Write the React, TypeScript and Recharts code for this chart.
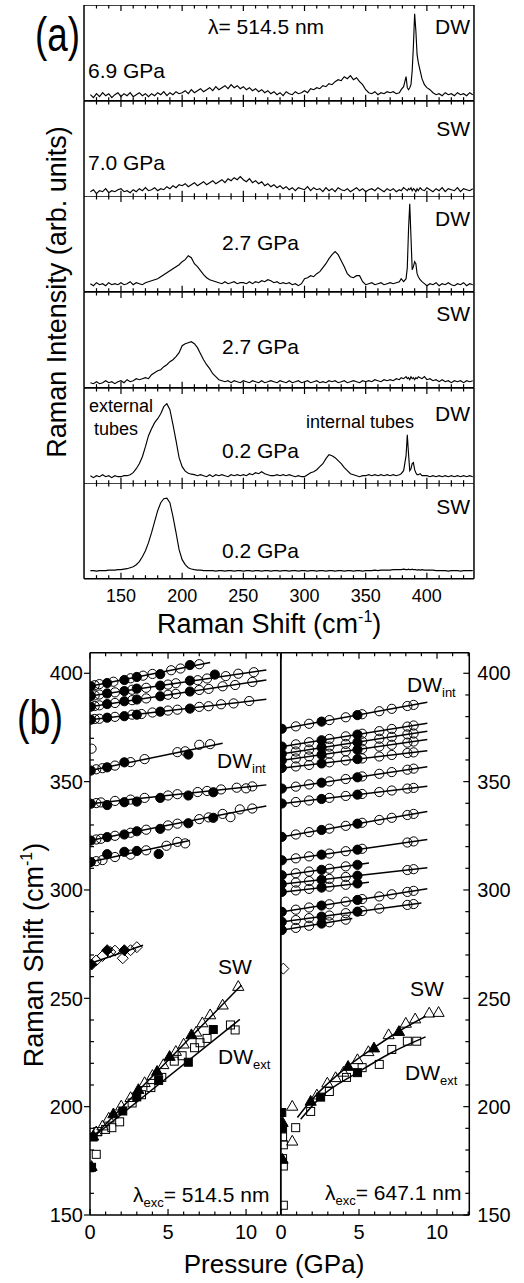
import React from 'react';
import { LineChart, Line, XAxis, YAxis, ComposedChart, Scatter } from 'recharts';

const FONT = '"Liberation Sans", Arial, Helvetica, sans-serif';
const INK = '#000';
const AX = { stroke: INK, strokeWidth: 1.5 };
const THIN = 0.01;

// ---------------- Panel (a): Raman spectra ----------------
const RAMAN_X = [
  125, 127.5, 130, 132.5, 135, 137.5, 140, 142.5, 145, 147.5,
  150, 152.5, 155, 157.5, 160, 162.5, 165, 167.5, 170, 172.5,
  175, 177.5, 180, 182.5, 185, 187.5, 190, 192.5, 195, 197.5,
  200, 202.5, 205, 207.5, 210, 212.5, 215, 217.5, 220, 222.5,
  225, 227.5, 230, 232.5, 235, 237.5, 240, 242.5, 245, 247.5,
  250, 252.5, 255, 257.5, 260, 262.5, 265, 267.5, 270, 272.5,
  275, 277.5, 280, 282.5, 285, 287.5, 290, 292.5, 295, 297.5,
  300, 302.5, 305, 307.5, 310, 312.5, 315, 317.5, 320, 322.5,
  325, 327.5, 330, 332.5, 335, 337.5, 340, 342.5, 345, 347.5,
  350, 352.5, 355, 357.5, 360, 362.5, 365, 367.5, 370,
  372.5, 375, 377.5, 379, 381, 383, 384, 385, 386, 387, 388, 389, 390, 391, 392, 393, 394.5, 396, 398,
  400, 402.5, 405, 407.5, 410, 412.5, 415, 417.5, 420, 422.5, 425, 427.5, 430, 432.5, 435, 437.5,
];

const SPEC_DW_69 = [
  6, 3, 7, 4, 8, 5, 7, 3, 6, 8,
  4, 7, 5, 8, 4, 6, 8, 5, 7, 4,
  7, 5, 8, 6, 9, 5, 8, 6, 9, 7,
  8, 10, 7, 11, 8, 10, 12, 9, 11, 13,
  10, 14, 11, 13, 15, 12, 16, 13, 15, 12,
  14, 11, 13, 10, 12, 9, 11, 8, 10, 7,
  9, 6, 8, 5, 9, 7, 6, 9, 7, 8,
  10, 8, 12, 11, 13, 12, 15, 14, 17, 16,
  19, 21, 20, 24, 22, 25, 21, 23, 19, 16,
  11, 8, 7, 9, 6, 8, 7, 9, 8,
  9, 7, 8, 11, 14, 24, 13, 11, 13, 16, 30, 55, 87, 70, 46, 38, 30, 22, 16,
  13, 11, 8, 6, 7, 5, 8, 6, 7, 5, 8, 6, 7, 5, 8, 6,
];
const SPEC_SW_70 = [
  5, 7, 3, 6, 5, 8, 4, 6, 5, 7,
  8, 5, 6, 4, 7, 5, 8, 6, 9, 6,
  7, 9, 6, 8, 7, 10, 8, 11, 9, 12,
  11, 13, 10, 12, 14, 11, 13, 15, 12, 14,
  16, 13, 15, 17, 14, 18, 16, 19, 17, 20,
  17, 15, 18, 14, 16, 13, 15, 11, 13, 10,
  12, 9, 11, 8, 10, 7, 9, 6, 9, 8,
  7, 10, 6, 9, 7, 8, 5, 9, 6, 8,
  5, 9, 7, 6, 8, 5, 7, 9, 6, 8,
  5, 7, 8, 6, 9, 7, 5, 8, 6,
  8, 5, 7, 6, 9, 7, 6, 8, 7, 9, 6, 8, 7, 5, 8, 6, 9, 7, 6,
  9, 7, 5, 8, 6, 9, 5, 8, 7, 6, 9, 5, 8, 7, 6, 8,
];
const SPEC_DW_27 = [
  8, 6, 9, 7, 8, 6, 9, 7, 8, 7,
  9, 7, 8, 10, 7, 9, 8, 7, 9, 10,
  11, 12, 13, 15, 17, 19, 21, 23, 25, 27,
  30, 32, 36, 34, 28, 25, 21, 17, 14, 12,
  11, 10, 9, 8, 10, 8, 9, 10, 8, 9,
  9, 8, 10, 8, 10, 9, 11, 10, 12, 11,
  9, 10, 8, 9, 8, 9, 7, 8, 6, 8,
  13, 14, 16, 15, 18, 20, 24, 28, 33, 37,
  40, 37, 31, 25, 18, 15, 14, 16, 16, 10,
  7, 8, 9, 7, 8, 9, 7, 8, 9,
  8, 9, 10, 13, 10, 13, 24, 62, 88, 55, 22, 25, 30, 28, 18, 15, 12, 10, 8,
  6, 8, 7, 9, 6, 8, 7, 9, 7, 6, 8, 7, 9, 6, 8, 7,
];
const SPEC_SW_27 = [
  5, 4, 6, 4, 5, 7, 5, 6, 4, 6,
  7, 5, 8, 6, 7, 9, 8, 9, 10, 9,
  13, 15, 17, 18, 21, 23, 26, 28, 31, 35,
  42, 44, 45, 46, 44, 40, 34, 28, 23, 19,
  14, 11, 8, 7, 6, 7, 5, 7, 6, 5,
  7, 6, 5, 7, 6, 5, 7, 5, 6, 7,
  6, 5, 7, 6, 5, 7, 5, 6, 7, 5,
  6, 7, 5, 6, 7, 5, 6, 5, 7, 6,
  7, 5, 6, 7, 5, 6, 7, 6, 5, 7,
  6, 7, 6, 8, 7, 6, 8, 7, 8,
  7, 9, 8, 10, 9, 11, 9, 10, 8, 11, 9, 10, 8, 10, 9, 11, 10, 9, 11,
  8, 9, 7, 8, 6, 8, 6, 7, 5, 7, 6, 7, 5, 7, 6, 7,
];
const SPEC_DW_02 = [
  8, 6, 8, 7, 9, 7, 8, 6, 8, 7,
  7, 8, 8, 9, 11, 15, 20, 27, 37, 48,
  55, 61, 65, 70, 77, 80, 74, 59, 43, 26,
  17, 12.5, 10.5, 9.5, 9, 8, 9, 8, 7, 9,
  7, 9, 8, 9, 8, 7, 9, 8, 9, 8,
  9, 8, 10, 9, 11, 10, 12, 10, 9, 8,
  8, 9, 8, 9, 8, 9, 8, 7, 8, 7,
  7, 9, 11, 12, 14, 17, 20, 25, 29, 28,
  26, 23, 20, 16, 13, 10, 9, 8, 7, 8,
  8, 9, 8, 9, 8, 9, 8, 9, 8,
  9, 8, 9, 10, 13, 28, 49, 30, 13, 15, 20, 21, 14, 11, 9, 9, 10, 8, 8,
  8, 7, 8, 7, 8, 7, 8, 7, 8, 7, 8, 7, 8, 7, 8, 7,
];
const SPEC_SW_02 = [
  8, 8, 7.5, 8, 8, 8, 8.5, 8.5, 8.5, 9,
  9, 9.5, 10, 11, 12, 14, 17, 22, 28, 36,
  46, 57, 68, 76, 80, 80.5, 76, 62, 46, 29,
  19, 14, 11, 9.7, 9, 8.5, 8.5, 8, 8, 8,
  8, 7.5, 8, 8, 7.5, 8, 8, 7.5, 8, 8,
  7.5, 8, 8, 7.5, 8, 8, 7.5, 8, 8, 7.5,
  8, 8, 7.5, 8, 8, 7.5, 8, 8, 7.5, 8,
  8, 7.5, 8, 8, 7.5, 8, 8, 7.5, 8, 8,
  7.5, 8, 8, 7.5, 8, 8, 7.5, 8, 8, 7.5,
  8, 8, 8, 8.5, 8, 8.5, 8.5, 8.5, 8.5,
  9, 9, 9, 9, 9.5, 9, 9, 9.5, 9, 9, 9.5, 9, 9, 9, 8.5, 9, 8.5, 9, 8.5,
  8.5, 8.5, 8.5, 8, 8, 8, 8, 7.5, 8, 8, 8, 7.5, 8, 8, 8, 8,
];
const SPECTRA = [SPEC_DW_69, SPEC_SW_70, SPEC_DW_27, SPEC_SW_27, SPEC_DW_02, SPEC_SW_02];
const RAMAN_TICKS = [130, 140, 150, 160, 170, 180, 190, 200, 210, 220, 230, 240, 250, 260, 270, 280, 290, 300, 310, 320, 330, 340, 350, 360, 370, 380, 390, 400, 410, 420, 430];
const RAMAN_DOMAIN: [number, number] = [119.8, 438.5];

// ---------------- Panel (b): pressure dependence ----------------
const P_TICKS = [0, 1, 2, 3, 4, 5, 6, 7, 8, 9, 10, 11, 12];
const SHIFT_TICKS = [150, 160, 170, 180, 190, 200, 210, 220, 230, 240, 250, 260, 270, 280, 290, 300, 310, 320, 330, 340, 350, 360, 370, 380, 390, 400];
const SHIFT_DOMAIN: [number, number] = [150, 409.5];

// lambda = 514.5 nm
const FITS_514: number[][] = [
  [0, 394.0, 7.7, 405.0],
  [0, 389.5, 11.3, 401.5],
  [0, 384.6, 11.3, 396.9],
  [0, 378.6, 11.3, 388.0],
  [0, 355.1, 8.5, 367.7],
  [0, 339.8, 11.3, 348.5],
  [0, 322.8, 11.3, 338.8],
  [0, 312.9, 6.4, 322.8],
  [0, 266.1, 3.4, 274.5],
  [0.2, 186.0, 9.7, 256.0],
  [0.2, 186.0, 9.6, 240.3],
];
const OPEN_CIRC_514 = [
  [0.3, 394.5], [0.6, 395.0], [1.5, 396.1], [2.6, 397.7], [3.4, 398.9], [4.0, 399.7], [5.2, 401.4], [5.8, 402.2], [7.0, 404.2],
  [0.3, 389.8], [0.6, 390.2], [1.6, 391.2], [2.7, 392.4], [3.6, 393.3], [5.0, 394.8], [5.5, 395.4], [6.9, 396.8], [7.5, 397.6], [8.7, 398.7], [9.5, 399.8], [10.5, 400.5],
  [0.3, 384.9], [0.6, 385.2], [1.6, 386.3], [2.7, 387.6], [3.6, 388.4], [5.0, 390.1], [5.5, 390.5], [7.0, 392.3], [7.6, 392.8], [8.5, 394.0], [9.3, 394.6], [10.4, 396.0],
  [0.3, 378.9], [0.6, 379.0], [1.6, 379.9], [2.7, 380.9], [3.3, 381.2], [4.0, 381.9], [5.0, 382.8], [5.6, 383.2], [7.0, 384.5], [7.6, 384.8], [8.4, 385.7], [9.2, 386.1], [10.2, 387.2],
  [0.1, 365.2], [0.4, 355.7], [0.8, 356.2], [1.6, 357.4], [2.6, 359.0], [3.5, 360.4], [5.6, 363.6], [6.1, 364.0], [7.0, 367.0], [7.7, 367.3],
  [0.4, 340.1], [0.7, 340.4], [1.6, 341.1], [2.6, 341.7], [3.5, 342.5], [5.0, 343.6], [5.6, 344.2], [6.9, 345.2], [7.5, 345.7], [8.4, 346.4], [9.4, 347.2], [10.0, 346.9], [10.4, 347.8],
  [0.4, 323.3], [0.7, 323.6], [1.6, 325.0], [2.6, 326.4], [3.6, 327.8], [5.0, 329.8], [5.6, 330.6], [7.0, 332.7], [7.6, 333.5], [8.5, 335.1], [9.0, 333.6], [9.6, 337.2], [10.4, 337.6],
  [0.4, 313.3], [0.8, 313.8], [1.6, 315.2], [2.6, 316.3], [3.6, 318.3], [4.9, 320.4], [5.6, 322.2], [6.1, 321.5],
];
const FILL_CIRC_514 = [
  [0.05, 394.0], [1.1, 395.5], [2.2, 396.9], [3.0, 398.3], [4.5, 399.6], [6.4, 403.8],
  [0.05, 389.5], [1.1, 390.7], [2.2, 391.8], [3.0, 392.9], [4.5, 394.3], [6.4, 396.6], [8.0, 399.4],
  [0.05, 384.6], [1.1, 385.8], [2.2, 387.1], [3.0, 387.9], [4.5, 389.4], [6.4, 391.6],
  [0.05, 378.6], [1.1, 379.5], [2.2, 380.2], [3.0, 380.9], [4.5, 382.3], [6.4, 383.7],
  [0.05, 355.1], [1.1, 356.6], [2.2, 358.9], [6.3, 362.5],
  [0.05, 339.8], [1.1, 339.2], [2.2, 340.5], [3.0, 340.8], [4.5, 342.5], [6.3, 343.6], [7.9, 345.1],
  [0.05, 322.8], [1.1, 324.4], [2.2, 325.6], [3.0, 327.1], [4.5, 328.2], [6.3, 330.8], [7.9, 333.3],
  [0.05, 312.9], [1.1, 316.5], [2.2, 317.6], [3.0, 318.0], [4.4, 316.6],
];
const OPEN_DIAM_514 = [[0.4, 267.5], [0.8, 269.5], [1.3, 271.4], [1.6, 272.0], [2.1, 268.5], [2.6, 272.2], [3.0, 273.6]];
const FILL_DIAM_514 = [[0.1, 265.6], [1.1, 272.2], [2.2, 272.2]];
const OPEN_TRI_514 = [
  [0.4, 188.5], [0.8, 191.2], [1.2, 194.8], [2.0, 200.4], [2.6, 204.3], [3.5, 211.2], [4.0, 214.5], [4.7, 219.5],
  [5.5, 225.6], [6.0, 229.0], [6.8, 234.5], [7.2, 238.8], [7.7, 242.5], [8.5, 247.0], [9.5, 255.6],
];
const FILL_TRI_514 = [[0.1, 172.5], [0.2, 186.5], [1.5, 196.8], [3.1, 208.0], [4.3, 216.4], [5.1, 223.3], [6.5, 233.3]];
const OPEN_SQ_514 = [
  [0.4, 178.0], [0.5, 188.5], [1.0, 189.5], [1.4, 190.3], [1.9, 193.0], [2.7, 201.7], [3.3, 205.5], [3.9, 208.8],
  [4.6, 213.5], [5.4, 221.0], [5.9, 223.5], [6.7, 227.2], [7.05, 229.5], [7.5, 231.5], [9.0, 237.7], [9.3, 235.4],
];
const FILL_SQ_514 = [[0.1, 172.0], [0.2, 186.0], [2.1, 198.0], [3.0, 204.5], [4.4, 212.1], [6.3, 220.5], [7.9, 235.6]];

// lambda = 647.1 nm
const FITS_647: number[][] = [
  [0, 374.3, 9.38, 386.6],
  [0, 366.1, 9.38, 376.9],
  [0, 362.8, 9.38, 373.2],
  [0, 359.7, 9.38, 369.4],
  [0, 356.2, 9.38, 364.3],
  [0, 346.7, 9.38, 356.9],
  [0, 339.8, 9.38, 347.9],
  [0, 324.4, 9.38, 336.2],
  [0, 313.6, 9.38, 323.3],
  [0, 306.7, 5.64, 312.4],
  [0, 302.6, 9.38, 310.3],
  [0, 299.0, 5.64, 303.6],
  [0, 289.8, 9.38, 300.6],
  [0, 285.2, 9.0, 294.0],
  [0, 281.4, 4.57, 286.8],
];
const SW_CURVE_647 = [[1.05, 195.0], [1.9, 202.6], [4.3, 218.7], [5.96, 227.2], [7.56, 234.8], [9.27, 241.7]];
const DWEXT_CURVE_647 = [[1.26, 194.2], [2.54, 204.4], [4.9, 215.7], [7.1, 225.0], [9.27, 232.2]];
const OPEN_CIRC_647 = [
  [0.95, 375.5], [1.8, 376.7], [3.1, 378.4], [4.15, 379.7], [5.2, 381.1], [6.3, 382.5], [7.1, 383.6], [8.1, 384.9], [8.5, 385.4],
  [0.95, 367.2], [1.8, 368.2], [3.1, 369.7], [4.15, 370.9], [5.2, 372.1], [6.3, 373.3], [7.1, 374.3], [8.1, 375.4], [8.5, 375.9],
  [0.95, 363.9], [1.8, 364.8], [3.1, 366.2], [4.15, 367.4], [5.2, 368.6], [6.3, 369.8], [7.1, 370.7], [8.1, 371.8], [8.5, 372.2],
  [0.95, 360.7], [1.8, 361.6], [3.1, 362.9], [4.15, 364.0], [5.2, 365.1], [6.3, 366.2], [7.1, 367.0], [8.1, 368.0], [8.5, 368.5],
  [0.95, 357.0], [1.8, 357.7], [3.1, 358.9], [4.15, 359.8], [5.2, 360.7], [6.3, 361.6], [7.1, 362.3], [8.1, 363.2], [8.5, 363.5],
  [0.95, 347.7], [1.8, 348.7], [3.1, 350.1], [4.15, 351.2], [5.2, 352.4], [6.3, 353.6], [7.1, 354.4], [8.1, 355.5], [8.5, 356.0],
  [0.95, 340.6], [1.8, 341.3], [3.1, 342.5], [4.15, 343.4], [5.2, 344.3], [6.3, 345.2], [7.1, 345.9], [8.1, 346.8], [8.5, 347.1],
  [0.95, 325.6], [1.8, 326.7], [3.1, 328.3], [4.15, 329.6], [5.2, 331.0], [6.3, 332.3], [7.1, 333.3], [8.1, 334.6], [8.5, 335.1],
  [0.95, 314.6], [1.8, 315.5], [3.1, 316.8], [4.15, 317.9], [5.2, 319.0], [8.1, 321.9], [8.5, 322.4],
  [0.95, 307.7], [1.8, 308.5], [3.1, 309.8], [4.15, 310.9],
  [0.95, 303.4], [1.8, 304.1], [3.1, 305.1], [4.15, 306.0], [8.1, 309.2], [8.5, 309.6],
  [0.95, 299.8], [1.8, 300.5], [3.1, 301.5], [4.15, 302.4],
  [0.95, 290.9], [1.8, 291.9], [3.1, 293.4], [4.15, 294.6], [5.2, 295.8], [6.3, 297.0], [7.1, 298.0], [8.1, 299.1], [8.5, 299.6],
  [0.95, 286.1], [1.8, 287.0], [3.1, 288.2], [4.15, 289.3], [5.2, 290.3], [6.3, 291.4], [8.1, 293.1], [8.5, 293.5],
  [0.95, 282.5], [1.8, 283.5], [3.1, 285.1], [4.15, 286.3],
];
const FILL_CIRC_647 = [
  [0.05, 374.4], [2.6, 377.7], [4.9, 380.7],
  [0.05, 366.2], [2.6, 369.1], [4.9, 371.7],
  [0.05, 362.9], [2.6, 365.7], [4.9, 368.2],
  [0.05, 359.8], [2.6, 362.4], [4.9, 364.7],
  [0.05, 356.3], [2.6, 358.4], [4.9, 360.4],
  [0.05, 346.8], [2.6, 349.5], [4.9, 352.0],
  [0.05, 339.9], [2.6, 342.0], [4.9, 344.0],
  [0.05, 324.5], [2.6, 327.7], [4.9, 330.6],
  [0.05, 313.7], [2.6, 316.3], [4.9, 318.6],
  [0.05, 306.8], [2.6, 309.3], [4.9, 311.6],
  [0.05, 302.7], [2.6, 304.7], [4.9, 306.6],
  [0.05, 299.1], [2.6, 301.1], [4.9, 303.0],
  [0.05, 289.9], [2.6, 292.8], [4.9, 295.4],
  [0.05, 285.3], [2.6, 287.7], [4.9, 290.0],
  [0.05, 281.5], [2.6, 284.5],
];
const OPEN_DIAM_647 = [[0.15, 263.7]];
const OPEN_TRI_647 = [
  [0.72, 200.3], [0.72, 184.2], [2.3, 205.5], [2.97, 211.0], [3.5, 213.5], [4.0, 216.0], [4.9, 221.8], [5.6, 225.5],
  [6.9, 233.3], [8.0, 238.6], [8.6, 240.6], [9.5, 243.3], [10.1, 243.6],
];
const FILL_TRI_647 = [[0.1, 192.8], [0.1, 175.8], [1.9, 202.6], [4.3, 218.7], [5.96, 227.2], [7.56, 234.8]];
const OPEN_SQ_647 = [
  [0.1, 186.0], [0.15, 182.4], [0.1, 176.0], [0.15, 172.6], [0.15, 154.5], [0.94, 190.3], [1.9, 197.8], [3.1, 207.0],
  [4.2, 213.5], [5.2, 218.0], [6.3, 219.5], [7.1, 226.4], [8.1, 230.2], [8.7, 230.2],
];
const FILL_SQ_647 = [[0.05, 197.3], [0.1, 190.0], [2.54, 204.4], [4.9, 215.7]];

// ---------------- helpers ----------------
type Side = 'top' | 'bottom' | 'left' | 'right';
function makeTick(o: { side: Side; majorEvery: number; majorLen: number; minorLen: number; majorOut?: boolean; label?: boolean; fontSize?: number; gap?: number }) {
  return function Tick(props: any) {
    const x = Number(props.x);
    const y = Number(props.y);
    const v = Number(props.payload?.value);
    const r = v / o.majorEvery;
    const isMajor = Math.abs(r - Math.round(r)) < 1e-6;
    const len = isMajor ? o.majorLen : o.minorLen;
    const fs = o.fontSize ?? 18;
    const gap = o.gap ?? 0;
    const st = { stroke: INK, strokeWidth: 1.2 };
    const tp = { fontSize: fs, fontFamily: FONT, fill: INK };
    let t: React.ReactNode = null;
    let l: React.ReactNode = null;
    if (o.side === 'bottom') {
      t = <line x1={x} x2={x} y1={y} y2={y - len} {...st} />;
      if (o.label && isMajor) l = <text x={x} y={y + gap} textAnchor="middle" {...tp}>{v}</text>;
    } else if (o.side === 'top') {
      t = <line x1={x} x2={x} y1={y} y2={y + len} {...st} />;
    } else if (o.side === 'left') {
      t = isMajor && o.majorOut
        ? <line x1={x - len} x2={x} y1={y} y2={y} {...st} />
        : <line x1={x} x2={x + len} y1={y} y2={y} {...st} />;
      if (o.label && isMajor) l = <text x={x - gap} y={y + fs * 0.36} textAnchor="end" {...tp}>{v}</text>;
    } else {
      t = <line x1={x - len} x2={x} y1={y} y2={y} {...st} />;
      if (o.label && isMajor) l = <text x={x + gap} y={y + fs * 0.36} textAnchor="start" {...tp}>{v}</text>;
    }
    return <g>{t}{l}</g>;
  };
}

const OpenCircle = (p: any) => <circle cx={p.cx} cy={p.cy} r={4.6} fill="none" stroke={INK} strokeWidth={1} />;
const FillCircle = (p: any) => <circle cx={p.cx} cy={p.cy} r={4.6} fill={INK} stroke={INK} strokeWidth={1} />;
const triPts = (cx: number, cy: number) => `${cx},${cy - 5.6} ${cx - 5.6},${cy + 4.2} ${cx + 5.6},${cy + 4.2}`;
const OpenTri = (p: any) => <polygon points={triPts(p.cx, p.cy)} fill="none" stroke={INK} strokeWidth={1} />;
const FillTri = (p: any) => <polygon points={triPts(p.cx, p.cy)} fill={INK} stroke={INK} strokeWidth={1} />;
const OpenSq = (p: any) => <rect x={p.cx - 4} y={p.cy - 4} width={8} height={8} fill="none" stroke={INK} strokeWidth={1} />;
const FillSq = (p: any) => <rect x={p.cx - 4} y={p.cy - 4} width={8} height={8} fill={INK} stroke={INK} strokeWidth={1} />;
const diaPts = (cx: number, cy: number) => `${cx},${cy - 5.5} ${cx + 5.5},${cy} ${cx},${cy + 5.5} ${cx - 5.5},${cy}`;
const OpenDia = (p: any) => <polygon points={diaPts(p.cx, p.cy)} fill="none" stroke={INK} strokeWidth={1} />;
const FillDia = (p: any) => <polygon points={diaPts(p.cx, p.cy)} fill={INK} stroke={INK} strokeWidth={1} />;

const toPts = (arr: number[][]) => arr.map(([p, v]) => ({ p, v }));

// ---------------- layout ----------------
const A_TOP = 5;
const A_PANEL_H = 95.67;

function SpectrumPanel({ values, index }: { values: number[]; index: number }) {
  const last = index === SPECTRA.length - 1;
  const extra = last ? 32 : THIN;
  const h = A_PANEL_H + extra + THIN;
  const data = RAMAN_X.map((x, i) => ({ x, y: values[i] }));
  return (
    <div style={{ position: 'absolute', left: 0, top: A_TOP + index * A_PANEL_H, width: 524, height: h }}>
      <LineChart width={524} height={h} data={data} margin={{ top: 0, right: 50, bottom: 0, left: 84 }}>
        <XAxis xAxisId="b" dataKey="x" type="number" domain={RAMAN_DOMAIN} allowDataOverflow ticks={RAMAN_TICKS} interval={0}
          height={extra} tickSize={0} tickMargin={0} tickLine={false} axisLine={AX}
          tick={makeTick({ side: 'bottom', majorEvery: 50, majorLen: 6, minorLen: 3.5, label: last, fontSize: 18, gap: 23.5 })} />
        <XAxis xAxisId="t" orientation="top" dataKey="x" type="number" domain={RAMAN_DOMAIN} allowDataOverflow ticks={RAMAN_TICKS} interval={0}
          height={THIN} tickSize={0} tickMargin={0} tickLine={false} axisLine={AX}
          tick={makeTick({ side: 'top', majorEvery: 50, majorLen: 6, minorLen: 3.5 })} />
        <YAxis yAxisId="l" type="number" domain={[0, A_PANEL_H]} allowDataOverflow width={THIN} tick={false} tickLine={false} axisLine={AX} />
        <YAxis yAxisId="r" orientation="right" type="number" domain={[0, A_PANEL_H]} allowDataOverflow width={THIN} tick={false} tickLine={false} axisLine={AX} />
        <Line xAxisId="b" yAxisId="l" dataKey="y" type="linear" stroke={INK} strokeWidth={1.15} dot={false} isAnimationActive={false} />
      </LineChart>
    </div>
  );
}

function PressurePanel(props: {
  left: number; width: number; marginLeft: number; marginRight: number; leftAxisW: number; rightAxisW: number; xMax: number;
  leftLabels: boolean; rightLabels: boolean; leftTicks: boolean;
  fits: number[][]; curves: number[][][];
  oc: number[][]; fc: number[][]; od: number[][]; fd: number[][]; ot: number[][]; ft: number[][]; os: number[][]; fs: number[][];
}) {
  const H = 610;
  const dom: [number, number] = [0, props.xMax];
  const lineProps = { xAxisId: 'b', yAxisId: 'l', dataKey: 'v', stroke: INK, strokeWidth: 1.5, dot: false, isAnimationActive: false, activeDot: false } as any;
  const sc = { xAxisId: 'b', yAxisId: 'l', isAnimationActive: false } as any;
  const ticks = P_TICKS.filter((t) => t <= props.xMax);
  return (
    <div style={{ position: 'absolute', left: props.left, top: 640, width: props.width, height: H }}>
      <ComposedChart width={props.width} height={H} margin={{ top: 12.7 - THIN, right: props.marginRight, bottom: 0, left: props.marginLeft }}>
        <XAxis xAxisId="b" dataKey="p" type="number" domain={dom} allowDataOverflow ticks={ticks} interval={0}
          height={35} tickSize={0} tickMargin={0} tickLine={false} axisLine={AX}
          tick={makeTick({ side: 'bottom', majorEvery: 5, majorLen: 6, minorLen: 3.5, label: true, fontSize: 20, gap: 24 })} />
        <XAxis xAxisId="t" orientation="top" dataKey="p" type="number" domain={dom} allowDataOverflow ticks={ticks} interval={0}
          height={THIN} tickSize={0} tickMargin={0} tickLine={false} axisLine={AX}
          tick={makeTick({ side: 'top', majorEvery: 5, majorLen: 6, minorLen: 3.5 })} />
        <YAxis yAxisId="l" dataKey="v" type="number" domain={SHIFT_DOMAIN} allowDataOverflow ticks={SHIFT_TICKS} interval={0}
          width={props.leftAxisW} tickSize={0} tickMargin={0} tickLine={false} axisLine={AX}
          tick={props.leftTicks ? makeTick({ side: 'left', majorEvery: 50, majorLen: 6, minorLen: 4, majorOut: true, label: props.leftLabels, fontSize: 20, gap: 7 }) : false} />
        <YAxis yAxisId="r" orientation="right" type="number" domain={SHIFT_DOMAIN} allowDataOverflow ticks={SHIFT_TICKS} interval={0}
          width={props.rightAxisW} tickSize={0} tickMargin={0} tickLine={false} axisLine={AX}
          tick={props.rightLabels ? makeTick({ side: 'right', majorEvery: 50, majorLen: 6, minorLen: 4, label: true, fontSize: 20, gap: 8 }) : false} />
        <Scatter {...sc} data={toPts(props.oc)} shape={OpenCircle} />
        <Scatter {...sc} data={toPts(props.od)} shape={OpenDia} />
        <Scatter {...sc} data={toPts(props.ot)} shape={OpenTri} />
        <Scatter {...sc} data={toPts(props.os)} shape={OpenSq} />
        <Scatter {...sc} data={toPts(props.fc)} shape={FillCircle} />
        <Scatter {...sc} data={toPts(props.fd)} shape={FillDia} />
        <Scatter {...sc} data={toPts(props.ft)} shape={FillTri} />
        <Scatter {...sc} data={toPts(props.fs)} shape={FillSq} />
        {props.fits.map((f, i) => (
          <Line key={'f' + i} {...lineProps} type="linear" data={[{ p: f[0], v: f[1] }, { p: f[2], v: f[3] }]} />
        ))}
        {props.curves.map((c, i) => (
          <Line key={'c' + i} {...lineProps} type="monotone" data={toPts(c)} />
        ))}
      </ComposedChart>
    </div>
  );
}

function Overlay() {
  const t = { fontFamily: FONT, fill: INK } as any;
  return (
    <svg width={524} height={1283} style={{ position: 'absolute', left: 0, top: 0, pointerEvents: 'none' }}>
      <g {...t}>
        <text x={35} y={51} fontSize={48} textLength={45} lengthAdjust="spacingAndGlyphs">(a)</text>
        <text x={17} y={734} fontSize={48} textLength={46} lengthAdjust="spacingAndGlyphs">(b)</text>

        <text x={266} y={33.5} fontSize={21} textAnchor="middle">λ= 514.5 nm</text>
        <text x={470} y={33.5} fontSize={21} textAnchor="end">DW</text>
        <text x={88} y={77.5} fontSize={21}>6.9 GPa</text>
        <text x={470} y={135.5} fontSize={21} textAnchor="end">SW</text>
        <text x={88} y={169.5} fontSize={21}>7.0 GPa</text>
        <text x={470} y={225.5} fontSize={21} textAnchor="end">DW</text>
        <text x={222} y={250} fontSize={21}>2.7 GPa</text>
        <text x={470} y={320.5} fontSize={21} textAnchor="end">SW</text>
        <text x={222} y={354} fontSize={21}>2.7 GPa</text>
        <text x={470} y={420.5} fontSize={21} textAnchor="end">DW</text>
        <text x={222} y={458} fontSize={21}>0.2 GPa</text>
        <text x={470} y={513.5} fontSize={21} textAnchor="end">SW</text>
        <text x={222} y={558} fontSize={21}>0.2 GPa</text>
        <text x={89} y={411.5} fontSize={18}>external</text>
        <text x={94} y={434.5} fontSize={18}>tubes</text>
        <text x={306} y={428} fontSize={18}>internal tubes</text>

        <text x={57} y={292} fontSize={27} textAnchor="middle" transform="rotate(-90 57 292)" dy={9}>Raman Intensity (arb. units)</text>
        <text x={157} y={633} fontSize={27}>Raman Shift (cm<tspan fontSize={16} dy={-11}>-1</tspan><tspan dy={11}>)</tspan></text>

        <text x={34} y={955} fontSize={27} textAnchor="middle" transform="rotate(-90 34 955)" dy={9}>Raman Shift (cm<tspan fontSize={16} dy={-11}>-1</tspan><tspan dy={11}>)</tspan></text>
        <text x={274} y={1273} fontSize={26} textAnchor="middle">Pressure (GPa)</text>

        <text x={217} y={767.5} fontSize={21}>DW<tspan fontSize={13} dy={5}>int</tspan></text>
        <text x={407} y={692} fontSize={21}>DW<tspan fontSize={13} dy={5}>int</tspan></text>
        <text x={218} y={973.5} fontSize={21}>SW</text>
        <text x={410} y={995.5} fontSize={21}>SW</text>
        <text x={218} y={1063.5} fontSize={21}>DW<tspan fontSize={13} dy={5}>ext</tspan></text>
        <text x={405} y={1079.5} fontSize={21}>DW<tspan fontSize={13} dy={5}>ext</tspan></text>
        <text x={133} y={1202} fontSize={21}>λ<tspan fontSize={13} dy={5}>exc</tspan><tspan dy={-5}>= 514.5 nm</tspan></text>
        <text x={325} y={1200} fontSize={21}>λ<tspan fontSize={13} dy={5}>exc</tspan><tspan dy={-5}>= 647.1 nm</tspan></text>
      </g>
    </svg>
  );
}

export default function App() {
  return (
    <div style={{ position: 'absolute', left: 0, top: 0, width: 524, height: 1283, background: '#fff', fontFamily: FONT }}>
      {SPECTRA.map((s, i) => (
        <SpectrumPanel key={i} values={s} index={i} />
      ))}
      <PressurePanel
        left={0} width={280.72} marginLeft={0} marginRight={0} leftAxisW={90} rightAxisW={THIN} xMax={12.22}
        leftLabels rightLabels={false} leftTicks
        fits={FITS_514} curves={[]}
        oc={OPEN_CIRC_514} fc={FILL_CIRC_514} od={OPEN_DIAM_514} fd={FILL_DIAM_514}
        ot={OPEN_TRI_514} ft={FILL_TRI_514} os={OPEN_SQ_514} fs={FILL_SQ_514}
      />
      <PressurePanel
        left={265.7} width={258.3} marginLeft={15} marginRight={0} leftAxisW={THIN} rightAxisW={55} xMax={12.07}
        leftLabels={false} rightLabels leftTicks={false}
        fits={FITS_647} curves={[SW_CURVE_647, DWEXT_CURVE_647]}
        oc={OPEN_CIRC_647} fc={FILL_CIRC_647} od={OPEN_DIAM_647} fd={[]}
        ot={OPEN_TRI_647} ft={FILL_TRI_647} os={OPEN_SQ_647} fs={FILL_SQ_647}
      />
      <Overlay />
    </div>
  );
}
